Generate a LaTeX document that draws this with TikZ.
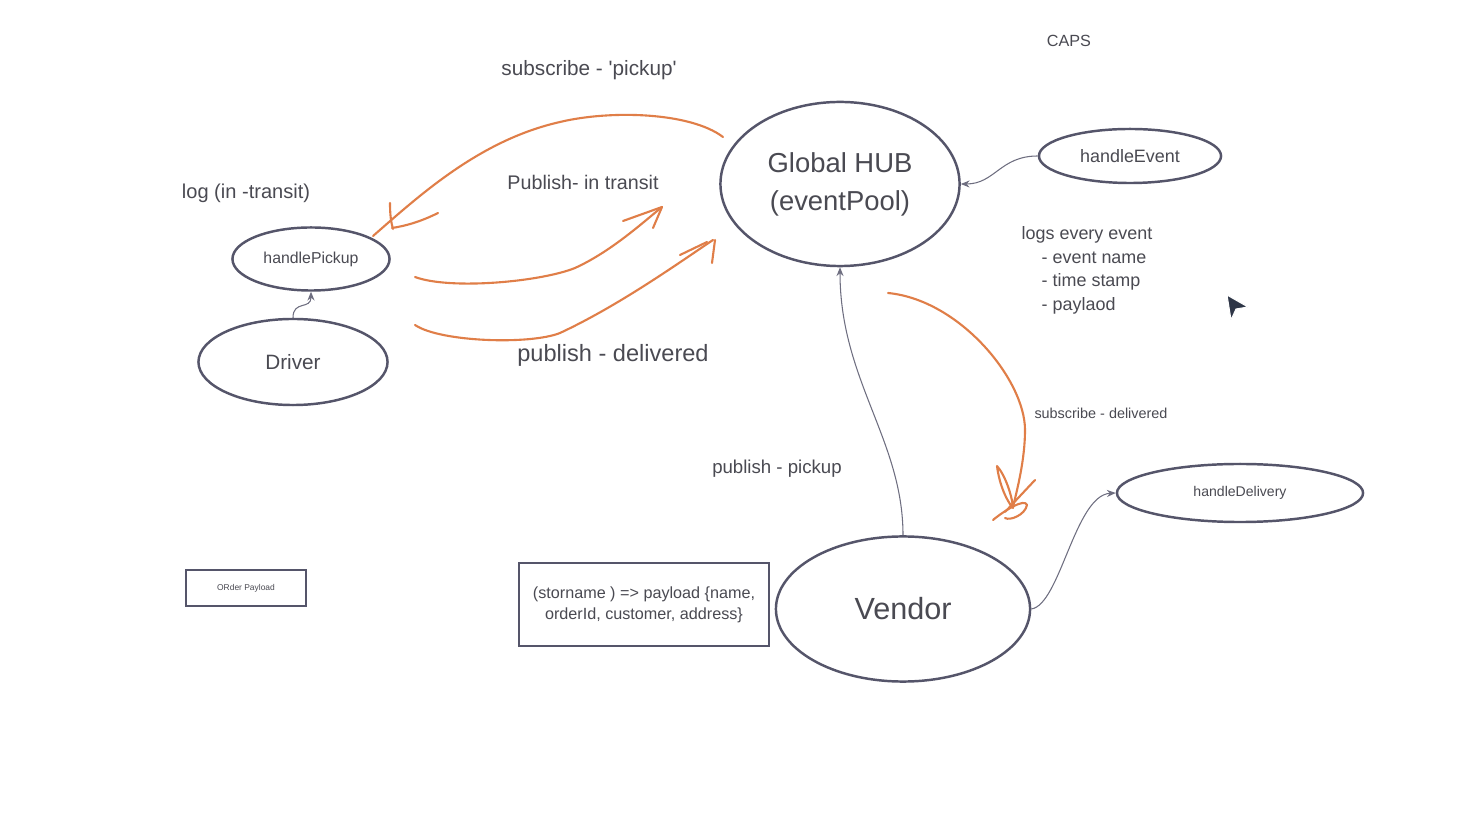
\documentclass[tikz,border=0pt]{standalone}
\usepackage{fontspec}
\setmainfont{Liberation Sans}
\usepackage{tikz}
\usetikzlibrary{shapes.geometric,arrows.meta}
\definecolor{inkgray}{HTML}{55556A}
\definecolor{txtgray}{HTML}{4A4A52}
\definecolor{penorange}{HTML}{E07E48}
\definecolor{cursorblue}{HTML}{2E3647}
\newcommand{\fsz}[2]{\fontsize{#1pt}{#2pt}\selectfont}

\begin{document}
\begin{tikzpicture}[x=0.01cm,y=-0.01cm,
		bubble/.style={ellipse,draw=inkgray,line width=0.7pt,inner sep=0pt,text=txtgray},
		box/.style={rectangle,draw=inkgray,line width=0.7pt,inner sep=0pt,text=txtgray,align=center},
		note/.style={text=txtgray,inner sep=0pt},
		link/.style={draw=inkgray!85,line width=0.3pt,-{Stealth[length=2.5pt,width=2pt]}},
		pen/.style={draw=penorange,line width=0.6pt,line cap=round,line join=round}]
			\fill [white] (0,0) rectangle (1476,822);
			\useasboundingbox (0,0) rectangle (1476,822);
			\node [bubble,minimum width=2.39cm,minimum height=1.64cm,align=center,font=\fsz{7.8}{10.8}] (hub) at (840,184) {Global HUB\\(eventPool)};
			\node [bubble,minimum width=1.82cm,minimum height=0.54cm,font=\fsz{5.1}{6}] (event) at (1130,156) {handleEvent};
			\node [bubble,minimum width=1.57cm,minimum height=0.63cm,font=\fsz{4.5}{5.4}] (pickup) at (311,259) {handlePickup};
			\node [bubble,minimum width=1.89cm,minimum height=0.86cm,font=\fsz{5.9}{7}] (driver) at (293,362) {Driver};
			\node [bubble,minimum width=2.54cm,minimum height=1.45cm,font=\fsz{8.7}{10}] (vendor) at (903,609) {Vendor};
			\node [bubble,minimum width=2.46cm,minimum height=0.58cm,font=\fsz{4}{5}] (delivery) at (1240,493) {handleDelivery};
			\node [box,minimum width=1.20cm,minimum height=0.36cm,font=\fsz{2.4}{3}] (order) at (246,588) {ORder Payload};
			\node [box,minimum width=2.50cm,minimum height=0.83cm,font=\fsz{4.6}{6}] (sig) at (644,604.5) {(storname ) => payload \{name,\\orderId, customer, address\}};
			\node [note,font=\fsz{4.6}{5.5}] (caps) at (1069,41) {CAPS};
			\node [note,font=\fsz{5.9}{7}] (subpick) at (589,70) {subscribe - \textquotesingle pickup\textquotesingle};
			\node [note,font=\fsz{5.7}{7}] (logtr) at (246,193) {log (in -transit)};
			\node [note,font=\fsz{5.6}{7}] (pubtr) at (583,182) {Publish- in transit};
			\node [note,font=\fsz{6.7}{8}] (pubdel) at (613,355) {publish - delivered};
			\node [note,font=\fsz{5.3}{6.5}] (pubpick) at (777,469) {publish - pickup};
			\node [note,font=\fsz{4.1}{5}] (subdel) at (1101,413) {subscribe - delivered};
			\node [note,font=\fsz{5.1}{6.7},align=left,anchor=north west] (logs) at (1021,226) {logs every event\\\hspace*{0.2cm}- event name\\\hspace*{0.2cm}- time stamp\\\hspace*{0.2cm}- paylaod};
			\draw [link] (event.west) .. controls (1000,156) and (995,184) .. (hub.east);
			\draw [link] (driver.north) .. controls (293,300) and (311,310) .. (pickup.south);
			\draw [link] (vendor.north) .. controls (903,440) and (840,380) .. (hub.south);
			\draw [link] (vendor.east) .. controls (1060,605) and (1075,495) .. (delivery.west);
			\coordinate (s1) at (723,137);
			\coordinate (e1) at (373,236);
			\coordinate (s2) at (415,277);
			\coordinate (e2) at (662,207);
			\coordinate (s3) at (415,325);
			\coordinate (e3) at (713,240);
			\coordinate (s4) at (888,293);
			\coordinate (e4) at (1013,507);
			\draw [pen] (s1) .. controls (690,112) and (610,110) .. (560,122) .. controls (480,140) and (420,195) .. (e1);
			\draw [pen] (390,203) .. controls (390,215) and (391,222) .. (393,229);
			\draw [pen] (438,213) .. controls (420,222) and (405,226) .. (392,228);
			\draw [pen] (s2) .. controls (450,290) and (540,282) .. (575,268) .. controls (610,252) and (640,225) .. (e2);
			\draw [pen] (623,221) -- (e2) -- (653,228);
			\draw [pen] (s3) .. controls (440,342) and (530,345) .. (560,333) .. controls (620,305) and (680,262) .. (e3);
			\draw [pen] (680,255) -- (707,242);
			\draw [pen] (715,240) -- (712,263);
			\draw [pen] (s4) .. controls (960,300) and (1025,380) .. (1025,430) .. controls (1025,460) and (1017,490) .. (e4);
			\draw [pen] (997,466) .. controls (1000,490) and (1010,505) .. (1013,508) .. controls (1012,495) and (1005,475) .. (997,466);
			\draw [pen] (1035,480) -- (1005,512);
			\draw [pen] (993,520) .. controls (1005,510) and (1025,498) .. (1027,505) .. controls (1025,515) and (1010,521) .. (1005,518);
			\fill [cursorblue,draw=white,line width=0.3pt] (1227,295) -- (1248,307) -- (1236,309) -- (1231,320) -- cycle;
\end{tikzpicture}
\end{document}
